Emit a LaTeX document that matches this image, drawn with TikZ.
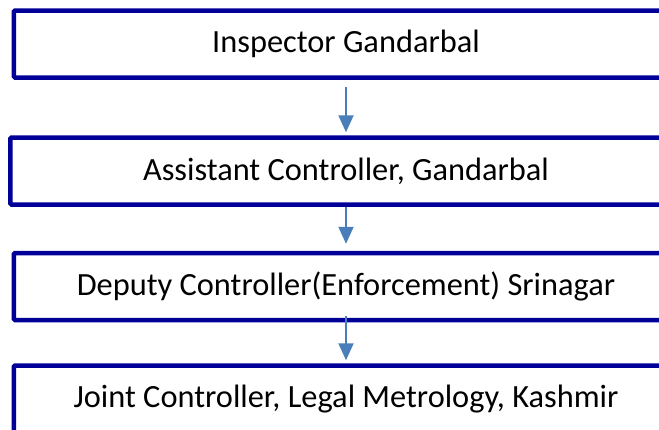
\documentclass[tikz,border=0pt]{standalone}
\usepackage{fontspec}
\setmainfont{Carlito}
\usetikzlibrary{arrows.meta}
\definecolor{boxblue}{RGB}{0,0,153}
\definecolor{arrowblue}{RGB}{74,126,187}

\begin{document}
\begin{tikzpicture}[x = 1bp, y = -1bp,
  box/.style = {draw = boxblue, line width = 4.5bp, rectangle, rounded corners = 1bp,
    minimum width = 664bp, minimum height = 67bp, inner sep = 0pt,
    font = \fontsize{32.5}{38}\selectfont},
  link/.style = {draw = arrowblue, line width = 2bp, -{Triangle[width = 15bp, length = 17bp]}}
]
\useasboundingbox (0,0) rectangle (659,429);
\node[box] (inspector) at (346,44) {Inspector Gandarbal};
\node[box, minimum width = 671bp] (assistant) at (346,171) {Assistant Controller, Gandarbal};
\node[box] (deputy) at (346,286.5) {Deputy Controller(Enforcement) Srinagar};
\node[box] (joint) at (346,399) {Joint Controller, Legal Metrology, Kashmir};

\draw[link, shorten < = 7bp, shorten > = 3bp] (inspector) -- (assistant);
\draw[link, shorten > = 7bp] (assistant) -- (deputy);
\draw[link, shorten < = -6bp, shorten > = 3bp] (deputy) -- (joint);
\end{tikzpicture}
\end{document}
